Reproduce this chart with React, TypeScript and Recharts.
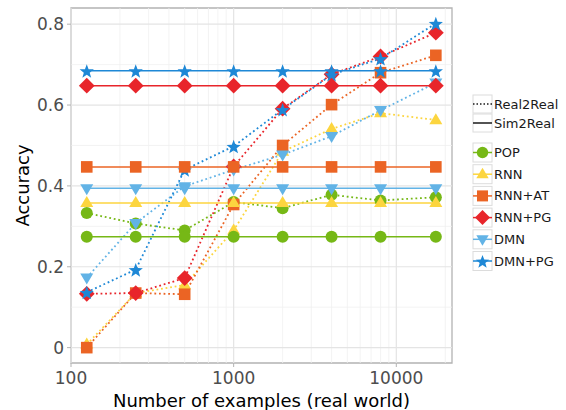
import React from 'react';
import { LineChart, Line, XAxis, YAxis, ReferenceLine, ReferenceArea, Label } from 'recharts';

// x positions (number of real-world examples)
const xValues = [125, 250, 500, 1000, 2000, 4000, 8000, 17500];

const models = ['POP', 'RNN', 'RNN+AT', 'RNN+PG', 'DMN', 'DMN+PG'];
const settings = ['Real2Real', 'Sim2Real'];

// Real2Real (dotted)
const popReal = [0.333, 0.307, 0.29, 0.36, 0.345, 0.378, 0.364, 0.372];
const rnnReal = [0.008, 0.135, 0.155, 0.29, 0.485, 0.541, 0.58, 0.563];
const rnnAtReal = [0.0, 0.135, 0.132, 0.354, 0.5, 0.601, 0.68, 0.723];
const rnnPgReal = [0.133, 0.135, 0.172, 0.448, 0.591, 0.676, 0.72, 0.779];
const dmnReal = [0.173, 0.308, 0.399, 0.44, 0.477, 0.523, 0.587, 0.655];
const dmnPgReal = [0.137, 0.193, 0.44, 0.498, 0.589, 0.675, 0.715, 0.802];

// Sim2Real (solid)
const popSim = [0.274, 0.274, 0.274, 0.274, 0.274, 0.274, 0.274, 0.274];
const rnnSim = [0.358, 0.358, 0.358, 0.358, 0.358, 0.358, 0.358, 0.358];
const rnnAtSim = [0.447, 0.447, 0.447, 0.447, 0.447, 0.447, 0.447, 0.447];
const rnnPgSim = [0.648, 0.648, 0.648, 0.648, 0.648, 0.648, 0.648, 0.648];
const dmnSim = [0.394, 0.394, 0.394, 0.394, 0.394, 0.394, 0.394, 0.394];
const dmnPgSim = [0.685, 0.685, 0.685, 0.685, 0.685, 0.685, 0.685, 0.685];

const realSeries = [popReal, rnnReal, rnnAtReal, rnnPgReal, dmnReal, dmnPgReal];
const simSeries = [popSim, rnnSim, rnnAtSim, rnnPgSim, dmnSim, dmnPgSim];

const xTicks = [100, 1000, 10000];
const xMinor = [200, 300, 400, 500, 600, 700, 800, 900, 2000, 3000, 4000, 5000, 6000, 7000, 8000, 9000, 20000];
const yTicks = [0, 0.2, 0.4, 0.6, 0.8];
const yMinor = [0.1, 0.3, 0.5, 0.7];

const colors: Record<string, string> = {
  POP: '#76b816',
  RNN: '#fcd53f',
  'RNN+AT': '#eb6424',
  'RNN+PG': '#e8252b',
  DMN: '#62b3e6',
  'DMN+PG': '#1e88d6',
};

const X_DOMAIN = [100, 22000];
const Y_DOMAIN = [-0.038, 0.84];
const FONT = 'DejaVu Sans';

const data = xValues.map((x, i) => {
  const row: Record<string, number> = { x };
  models.forEach((m, j) => {
    row[`${m}|Real2Real`] = realSeries[j][i];
    row[`${m}|Sim2Real`] = simSeries[j][i];
  });
  return row;
});

const Marker = ({ model, cx, cy, color, scale = 1 }: { model: string; cx: number; cy: number; color: string; scale?: number }) => {
  if (cx == null || cy == null) return <g />;
  const s = scale;
  if (model === 'POP') return <circle cx={cx} cy={cy} r={6 * s} fill={color} />;
  if (model === 'RNN') {
    const h = 11 * s, w = 13 * s;
    return <polygon points={`${cx},${cy - h * 0.62} ${cx - w / 2},${cy + h * 0.38} ${cx + w / 2},${cy + h * 0.38}`} fill={color} />;
  }
  if (model === 'RNN+AT') {
    const a = 5.8 * s;
    return <rect x={cx - a} y={cy - a} width={a * 2} height={a * 2} fill={color} />;
  }
  if (model === 'RNN+PG') {
    const d = 7.9 * s;
    return <polygon points={`${cx},${cy - d} ${cx + d},${cy} ${cx},${cy + d} ${cx - d},${cy}`} fill={color} />;
  }
  if (model === 'DMN') {
    const h = 11 * s, w = 13 * s;
    return <polygon points={`${cx},${cy + h * 0.62} ${cx - w / 2},${cy - h * 0.38} ${cx + w / 2},${cy - h * 0.38}`} fill={color} />;
  }
  // star
  const ro = 7.5 * s, ri = 3.1 * s;
  const pts: string[] = [];
  for (let k = 0; k < 10; k++) {
    const r = k % 2 === 0 ? ro : ri;
    const a = -Math.PI / 2 + (k * Math.PI) / 5;
    pts.push(`${cx + r * Math.cos(a)},${cy + 1 + r * Math.sin(a)}`);
  }
  return <polygon points={pts.join(' ')} fill={color} />;
};

const CustomLegend = () => {
  const boxX = 1;
  const boxW = 19;
  return (
    <svg width={94} height={190} style={{ fontFamily: FONT, overflow: 'visible', display: 'block' }}>
      {settings.map((s, i) => {
        const y = 1 + i * 19;
        return (
          <g key={s}>
            <rect x={boxX} y={y} width={boxW} height={18} fill="#fff" stroke="#dcdcdc" strokeWidth={1} />
            <line x1={boxX} x2={boxX + boxW} y1={y + 9} y2={y + 9} stroke="#1a1a1a" strokeWidth={1.5}
              strokeDasharray={s === 'Real2Real' ? '1.5 2' : undefined} />
            <text x={22} y={y + 13.5} fontSize={13} fill="#1a1a1a">{s}</text>
          </g>
        );
      })}
      {models.map((m, i) => {
        const y = 49 + i * 21.7;
        return (
          <g key={m}>
            <rect x={boxX} y={y} width={boxW} height={19} fill="#fff" stroke="#dcdcdc" strokeWidth={1} />
            <line x1={boxX} x2={boxX + boxW} y1={y + 9.5} y2={y + 9.5} stroke={colors[m]} strokeWidth={1.5} />
            <Marker model={m} cx={boxX + boxW / 2} cy={y + 9.5} color={colors[m]} scale={0.95} />
            <text x={22} y={y + 14} fontSize={13} fill="#1a1a1a">{m}</text>
          </g>
        );
      })}
    </svg>
  );
};

const fmtY = (v: number) => (v === 0 ? '0' : v.toFixed(1));

export default function App() {
  return (
    <div style={{ position: 'absolute', left: 0, top: 0, width: 566, height: 410, background: '#fff' }}>
      <LineChart width={566} height={410} data={data}
        margin={{ top: 8, right: 114, bottom: 7, left: 11 }}
        style={{ fontFamily: FONT }}>
        {yMinor.map(v => (
          <ReferenceLine key={`ym${v}`} y={v} stroke="#f0f0f0" strokeWidth={0.8} />
        ))}
        {xMinor.map(v => (
          <ReferenceLine key={`xm${v}`} x={v} stroke="#f0f0f0" strokeWidth={0.8} />
        ))}
        {yTicks.map(v => (
          <ReferenceLine key={`yM${v}`} y={v} stroke="#e4e4e4" strokeWidth={1.2} />
        ))}
        {xTicks.map(v => (
          <ReferenceLine key={`xM${v}`} x={v} stroke="#e4e4e4" strokeWidth={1.2} />
        ))}
        <XAxis dataKey="x" type="number" scale="log" domain={X_DOMAIN} allowDataOverflow
          ticks={xTicks} height={40} axisLine={false}
          tickLine={{ stroke: '#b3b3b3' }} tickSize={4} tickMargin={5}
          tick={{ fontSize: 17, fill: '#4d4d4d', fontFamily: FONT }}>
          <Label value="Number of examples (real world)" position="insideBottom" offset={-4}
            style={{ fontSize: 18, fill: '#000', fontFamily: FONT }} />
        </XAxis>
        <YAxis type="number" domain={Y_DOMAIN} allowDataOverflow ticks={yTicks} width={60}
          tickFormatter={fmtY} axisLine={false}
          tickLine={{ stroke: '#b3b3b3' }} tickSize={4} tickMargin={3}
          tick={{ fontSize: 17, fill: '#4d4d4d', fontFamily: FONT }}>
          <Label value="Accuracy" angle={-90} position="insideLeft" offset={12}
            style={{ textAnchor: 'middle', fontSize: 18, fill: '#000', fontFamily: FONT }} />
        </YAxis>
        <ReferenceArea x1={X_DOMAIN[0]} x2={X_DOMAIN[1]} y1={Y_DOMAIN[0]} y2={Y_DOMAIN[1]}
          fill="none" stroke="#b3b3b3" strokeWidth={1.3} />
        {settings.map(s =>
          models.map(m => (
            <Line key={`l-${m}-${s}`} dataKey={`${m}|${s}`} type="linear" stroke={colors[m]}
              strokeWidth={s === 'Real2Real' ? 1.8 : 1.5}
              strokeDasharray={s === 'Real2Real' ? '1.8 2.8' : undefined}
              dot={false} activeDot={false} isAnimationActive={false} legendType="none" />
          ))
        )}
        {settings.map(s =>
          models.map(m => (
            <Line key={`p-${m}-${s}`} dataKey={`${m}|${s}`} type="linear" stroke="none"
              dot={(p: any) => <Marker key={`d-${m}-${s}-${p.index}`} model={m} cx={p.cx} cy={p.cy} color={colors[m]} />}
              activeDot={false} isAnimationActive={false} legendType="none" />
          ))
        )}
      </LineChart>
      <div style={{ position: 'absolute', left: 472, top: 94 }}>
        <CustomLegend />
      </div>
    </div>
  );
}
